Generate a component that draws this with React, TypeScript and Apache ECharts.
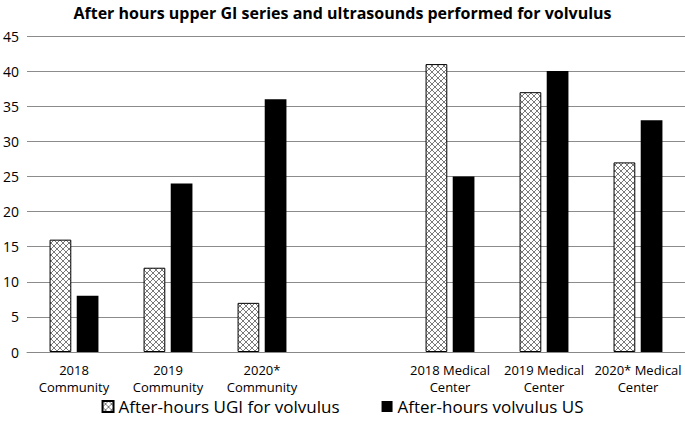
import React, { useEffect, useRef } from "react";
import * as echarts from "echarts";

const categories = [
  "2018\nCommunity",
  "2019\nCommunity",
  "2020*\nCommunity",
  "",
  "2018 Medical\nCenter",
  "2019 Medical\nCenter",
  "2020* Medical\nCenter",
];
const ugiValues: (number | null)[] = [16, 12, 7, null, 41, 37, 27];
const usValues: (number | null)[] = [8, 24, 36, null, 25, 40, 33];
const seriesNames = ["After-hours UGI for volvulus", "After-hours volvulus US"];
const yTicks = { min: 0, max: 45, interval: 5 };

function makePattern() {
  const c = document.createElement("canvas");
  c.width = 6;
  c.height = 6;
  const ctx = c.getContext("2d")!;
  ctx.fillStyle = "#ffffff";
  ctx.fillRect(0, 0, 6, 6);
  ctx.strokeStyle = "#7a7a7a";
  ctx.lineWidth = 1;
  ctx.beginPath();
  ctx.moveTo(0, 0);
  ctx.lineTo(6, 6);
  ctx.moveTo(6, 0);
  ctx.lineTo(0, 6);
  ctx.stroke();
  return c;
}

export default function App() {
  const ref = useRef<HTMLDivElement>(null);
  useEffect(() => {
    const chart = echarts.init(ref.current!, null, { renderer: "svg" });
    const pattern = { image: makePattern(), repeat: "repeat" };
    const font = "Open Sans";
    chart.setOption({
      animation: false,
      textStyle: { fontFamily: font },
      title: {
        text: "After hours upper GI series and ultrasounds performed for volvulus",
        left: "center",
        top: 0,
        textStyle: { fontSize: 16, fontWeight: "bold", color: "#000", fontFamily: font },
      },
      legend: {
        bottom: 6,
        left: "center",
        itemGap: 42,
        itemWidth: 11,
        itemHeight: 11,
        textStyle: { fontSize: 17, color: "#000", fontFamily: font },
        data: [
          { name: seriesNames[0], icon: "rect" },
          { name: seriesNames[1], icon: "rect" },
        ],
      },
      grid: { left: 26, right: 0, top: 36, bottom: 74, containLabel: false },
      xAxis: {
        type: "category",
        data: categories,
        axisLine: { show: true, lineStyle: { color: "#888", width: 1 } },
        axisTick: { show: false },
        axisLabel: { interval: 0, fontSize: 13, color: "#000", lineHeight: 17, margin: 9 },
      },
      yAxis: {
        type: "value",
        min: yTicks.min,
        max: yTicks.max,
        interval: yTicks.interval,
        axisLine: { show: false },
        axisTick: { show: false },
        splitLine: { lineStyle: { color: "#8c8c8c", width: 1 } },
        axisLabel: { fontSize: 14, color: "#000", margin: 8 },
      },
      series: [
        {
          name: seriesNames[0],
          type: "bar",
          data: ugiValues,
          barGap: "25%",
          barCategoryGap: "48%",
          itemStyle: { color: pattern, borderColor: "#000", borderWidth: 1 },
        },
        {
          name: seriesNames[1],
          type: "bar",
          data: usValues,
          itemStyle: { color: "#000" },
        },
      ],
    });
    return () => chart.dispose();
  }, []);
  return <div ref={ref} style={{ width: 685, height: 426, position: "absolute", left: 0, top: 0 }} />;
}
